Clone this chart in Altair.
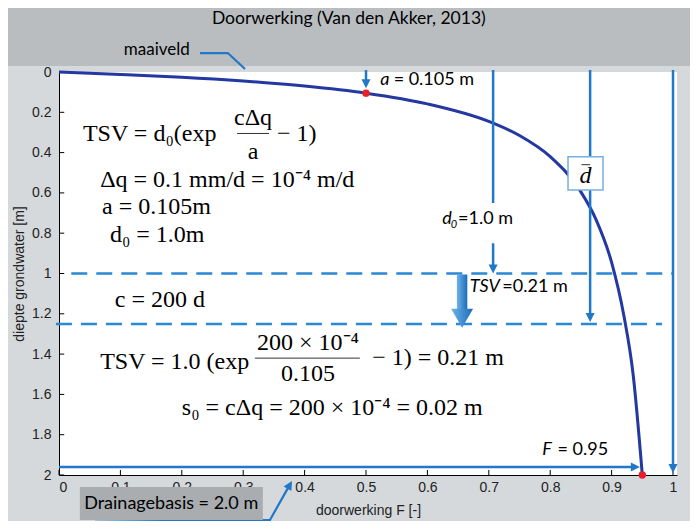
import altair as alt
import pandas as pd

# ---------------- data ----------------
# curve: doorwerking F versus depth of groundwater
curve_F = [0, 0.1, 0.2, 0.3, 0.4, 0.5, 0.6, 0.7, 0.75, 0.8, 0.85, 0.875, 0.9, 0.92, 0.935, 0.95]
curve_depth = [0, 0.012, 0.026, 0.045, 0.07, 0.105, 0.158, 0.245, 0.315, 0.42, 0.595, 0.735, 0.945, 1.21, 1.5, 2.0]

# highlighted points
dot_F = [0.5, 0.95]
dot_depth = [0.105, 2.0]

# dashed reference levels (d0 and d0 + TSV)
dash_depth = [1.0, 1.25]
dash_start = [0.02, -0.005]
dash_end = [1.0, 0.982]

x_ticks = [0, 0.1, 0.2, 0.3, 0.4, 0.5, 0.6, 0.7, 0.8, 0.9, 1.0]
y_ticks = [0, 0.2, 0.4, 0.6, 0.8, 1.0, 1.2, 1.4, 1.6, 1.8, 2.0]

# ---------------- styling ----------------
BLUE = "#1f78c8"
DASH = "#2b88d2"
NAVY = "#2338a0"

XS = alt.Scale(domain=[0, 1.0065], nice=False, zero=False)
YS = alt.Scale(domain=[0, 2], reverse=True, nice=False, zero=False)
XA = alt.Axis(values=x_ticks, format="~g", title="doorwerking F [-]", ticks=False, grid=False,
              labelPadding=5, titlePadding=9, labelFontSize=14, titleFontSize=14)
YA = alt.Axis(values=y_ticks, format="~g", title="diepte grondwater [m]", ticks=False, grid=False,
              labelPadding=8, titlePadding=5, labelFontSize=14, titleFontSize=14)


def X(f="x"):
    return alt.X(f"{f}:Q", scale=XS, axis=XA)


def Y(f="y"):
    return alt.Y(f"{f}:Q", scale=YS, axis=YA)


layers = []

# title band
band = pd.DataFrame({"x": [-0.2], "x2": [1.2], "y": [-0.45], "y2": [-0.03]})
layers.append(alt.Chart(band).mark_rect(color="#b9bdc0").encode(x=X(), x2="x2:Q", y=Y(), y2="y2:Q"))

# dashed lines
dash_df = pd.DataFrame({"x": dash_start, "x2": dash_end, "y": dash_depth})
layers.append(alt.Chart(dash_df).mark_rule(color=DASH, strokeWidth=2.5, strokeDash=[16, 9]).encode(
    x=X(), x2="x2:Q", y=Y()))

# inward ticks
xt = pd.DataFrame({"x": x_ticks, "y": [2.0] * len(x_ticks), "y2": [1.975] * len(x_ticks)})
yt = pd.DataFrame({"x": [0.0] * len(y_ticks), "x2": [0.0085] * len(y_ticks), "y": y_ticks})
layers.append(alt.Chart(xt).mark_rule(color="black", strokeWidth=1).encode(x=X(), y=Y(), y2="y2:Q"))
layers.append(alt.Chart(yt).mark_rule(color="black", strokeWidth=1).encode(x=X(), x2="x2:Q", y=Y()))

# the curve
curve = pd.DataFrame({"x": curve_F, "y": curve_depth})
layers.append(alt.Chart(curve).mark_line(color=NAVY, strokeWidth=3, interpolate="monotone").encode(
    x=X(), y=Y(), order="x:Q"))

# blue arrow shafts (vertical and horizontal)
vseg = pd.DataFrame({
    "x": [0.5, 0.707, 0.707, 0.865, 1.0],
    "y": [-0.01, -0.01, 0.85, -0.01, -0.01],
    "y2": [0.055, 0.65, 0.978, 1.218, 1.968],
})
layers.append(alt.Chart(vseg).mark_rule(color=BLUE, strokeWidth=2.5).encode(x=X(), y=Y(), y2="y2:Q"))
hseg = pd.DataFrame({"x": [0.0], "x2": [0.938], "y": [1.96]})
layers.append(alt.Chart(hseg).mark_rule(color=BLUE, strokeWidth=2.5).encode(x=X(), x2="x2:Q", y=Y()))

# callout polylines
callout = pd.DataFrame({
    "g": ["m", "m", "m", "d", "d", "d"],
    "o": [0, 1, 2, 0, 1, 2],
    "x": [0.2296, 0.275, 0.303, 0.0586, 0.3436, 0.3758],
    "y": [-0.094, -0.094, -0.015, 2.233, 2.223, 2.049],
})
layers.append(alt.Chart(callout).mark_line(color=BLUE, strokeWidth=2.2).encode(
    x=X(), y=Y(), detail="g:N", order="o:Q"))

# arrow heads
down = pd.DataFrame({"x": [0.5, 0.707, 0.865, 1.0], "y": [0.058, 0.978, 1.218, 1.968]})
layers.append(alt.Chart(down).mark_point(shape="M -1 -1 L 1 -1 L 0 1 Z", filled=True, opacity=1,
                                         color=BLUE, size=81).encode(x=X(), y=Y()))
right = pd.DataFrame({"x": [0.9387], "y": [1.96]})
layers.append(alt.Chart(right).mark_point(shape="M -1 -1 L 1 0 L -1 1 Z", filled=True, opacity=1,
                                          color=BLUE, size=81).encode(x=X(), y=Y()))
upr = pd.DataFrame({"x": [0.3758], "y": [2.049]})
layers.append(alt.Chart(upr).mark_point(shape="M -1 1 L 1 1 L 0 -1 Z", filled=True, opacity=1,
                                        color=BLUE, size=81, angle=30).encode(x=X(), y=Y()))

# big gradient arrow (TSV)
grad = alt.LinearGradient(gradient="linear", x1=0, y1=0, x2=1, y2=0,
                          stops=[alt.GradientStop(offset=0, color="#6fb3ea"),
                                 alt.GradientStop(offset=1, color="#1a6cb8")])
shaft = pd.DataFrame({"x": [0.648], "x2": [0.665], "y": [1.005], "y2": [1.18]})
layers.append(alt.Chart(shaft).mark_rect(color=grad).encode(x=X(), x2="x2:Q", y=Y(), y2="y2:Q"))
head = pd.DataFrame({"x": [0.6565], "y": [1.222]})
layers.append(alt.Chart(head).mark_point(shape="M -1 -0.86 L 1 -0.86 L 0 0.86 Z", filled=True, opacity=1,
                                         color=grad, size=484).encode(x=X(), y=Y()))

# d-bar box
dbox = pd.DataFrame({"x": [0.829], "x2": [0.886], "y": [0.42], "y2": [0.586]})
layers.append(alt.Chart(dbox).mark_rect(fill="white", stroke="#7aaede", strokeWidth=1.5).encode(
    x=X(), x2="x2:Q", y=Y(), y2="y2:Q"))

# drainage box
drbox = pd.DataFrame({"x": [0.034], "x2": [0.332], "y": [2.06], "y2": [2.223]})
layers.append(alt.Chart(drbox).mark_rect(fill="#a9adb0").encode(x=X(), x2="x2:Q", y=Y(), y2="y2:Q"))

# fraction bars and overbar
bars = pd.DataFrame({"x": [0.29, 0.319, 0.851], "x2": [0.342, 0.49, 0.865], "y": [0.305, 1.42, 0.46]})
layers.append(alt.Chart(bars).mark_rule(color="#333333", strokeWidth=1).encode(x=X(), x2="x2:Q", y=Y()))

# red dots
dots = pd.DataFrame({"x": dot_F, "y": dot_depth})
layers.append(alt.Chart(dots).mark_point(filled=True, opacity=1, color="#e8202a", size=55).encode(x=X(), y=Y()))


def texts(df, **kw):
    return alt.Chart(df).mark_text(baseline="middle", **kw).encode(x=X(), y=Y(), text="t:N")


SANS = "Lato"
SERIF = "Liberation Serif"

# sans labels, normal, left aligned
sans_l = pd.DataFrame({
    "x": [0.545, 0.65, 0.722, 0.812, 0.041],
    "y": [0.04, 0.73, 1.067, 1.876, 2.144],
    "t": ["=  0.105 m", "=1.0 m", "=0.21 m", "= 0.95", "Drainagebasis = 2.0 m"],
})
layers.append(texts(sans_l, align="left", font=SANS, fontSize=18, color="black"))
sans_i = pd.DataFrame({
    "x": [0.523, 0.624, 0.669, 0.787],
    "y": [0.04, 0.73, 1.067, 1.876],
    "t": ["a", "d", "TSV", "F"],
})
layers.append(texts(sans_i, align="left", font=SANS, fontSize=18, fontStyle="italic", color="black"))
sub = pd.DataFrame({"x": [0.638], "y": [0.758], "t": ["0"]})
layers.append(texts(sub, align="left", font=SANS, fontSize=11, fontStyle="italic", color="black"))

mv = pd.DataFrame({"x": [0.213], "y": [-0.109], "t": ["maaiveld"]})
layers.append(texts(mv, align="right", font=SANS, fontSize=17, color="black"))
title = pd.DataFrame({"x": [0.472], "y": [-0.265], "t": ["Doorwerking (Van den Akker, 2013)"]})
layers.append(texts(title, align="center", font=SANS, fontSize=17.5, color="black"))

# formulas
form_l = pd.DataFrame({
    "x": [0.039, 0.355, 0.067, 0.07, 0.083, 0.091, 0.067, 0.51, 0.2],
    "y": [0.308, 0.308, 0.536, 0.67, 0.81, 1.13, 1.44, 1.42, 1.667],
    "t": ["TSV  =  d\u2080(exp", "\u2212  1)", "\u0394q  =  0.1 mm/d  =  10\u207b\u2074 m/d",
          "a  =  0.105m", "d\u2080  =  1.0m", "c  =  200 d", "TSV  =  1.0 (exp",
          "\u2212  1)  =  0.21 m", "s\u2080  =  c\u0394q  =  200 \u00d7 10\u207b\u2074  =  0.02 m"],
})
layers.append(texts(form_l, align="left", font=SERIF, fontSize=24, color="black"))
form_c = pd.DataFrame({
    "x": [0.316, 0.316, 0.4055, 0.4055],
    "y": [0.228, 0.397, 1.345, 1.5],
    "t": ["c\u0394q", "a", "200 \u00d7 10\u207b\u2074", "0.105"],
})
layers.append(texts(form_c, align="center", font=SERIF, fontSize=24, color="black"))
dbar = pd.DataFrame({"x": [0.8575], "y": [0.515], "t": ["d"]})
layers.append(texts(dbar, align="center", font=SERIF, fontSize=24, fontStyle="italic", color="black"))

chart = alt.layer(*layers).properties(
    width=618, height=403,
    padding={"left": 51, "top": 64, "right": 13, "bottom": 46},
    autosize=alt.AutoSizeParams(type="none"),
    background="#d5d9dc",
).configure_view(fill="white", stroke=None).configure_axis(
    domainColor="black", domainWidth=1, labelFont="Liberation Sans", titleFont="Liberation Sans",
    labelColor="#222222", titleColor="#222222", titleFontWeight="normal",
)

chart.save("out.html", embed_options={"renderer": "svg", "actions": False})
